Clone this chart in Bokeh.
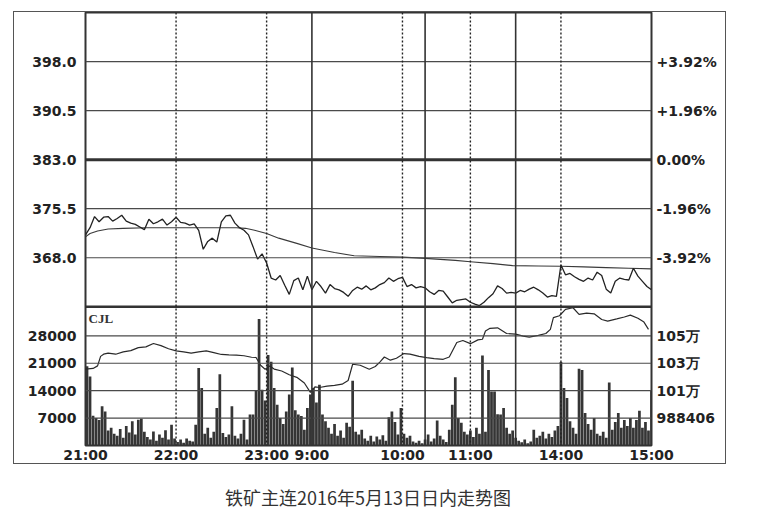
from bokeh.plotting import figure
from bokeh.models import Range1d, LinearAxis, FixedTicker, Span, CustomJSTickFormatter
from bokeh.layouts import column
from bokeh.embed import file_html
from bokeh.resources import INLINE
from bokeh.core.properties import value

# ---------------- data (minutes since 21:00 on the trading-time axis) ----------------
price_t = list(range(0, 376, 3))
price_night = [371.5, 372.6, 374.3, 373.5, 374.2, 374.3, 373.6, 374.0, 374.5, 373.6,
               373.3, 373.1, 372.7, 372.3, 373.9, 373.2, 373.5, 373.9, 373.0, 373.5,
               374.2, 373.4, 373.3, 373.0, 373.2, 372.2, 369.3, 370.5, 371.0, 370.4,
               373.5, 374.4, 374.5, 373.3, 372.6, 372.2, 371.5, 369.7, 367.8, 368.6,
               367.2, 364.9, 364.6, 365.3, 363.8, 362.4, 364.5, 364.9, 363.1, 365.2]
price_day = [363.1, 364.4, 363.6, 362.6, 363.9, 363.3, 363.1, 362.7, 362.1, 363.0,
             363.5, 363.2, 363.7, 363.1, 363.4, 363.9, 364.2, 364.9, 364.4, 364.8,
             365.0, 363.6, 363.9, 363.4, 363.6, 363.4, 362.8, 362.4, 363.0, 362.9,
             362.0, 361.1, 361.5, 361.6, 361.7, 361.2, 360.9, 360.7, 361.2, 361.9,
             362.5, 363.7, 363.3, 362.6, 362.7, 362.6, 363.0, 362.8, 363.2, 363.5,
             363.1, 362.6, 362.0, 362.2, 362.1, 366.9, 365.4, 365.6, 365.1, 364.7,
             364.4, 364.9, 364.6, 365.8, 365.3, 363.2, 362.6, 364.4, 364.9, 364.7,
             364.6, 366.4, 365.2, 364.4, 363.6, 363.1]
price_v = price_night + price_day

avg_t = [0, 3, 8, 15, 25, 40, 60, 80, 100, 106, 112, 120, 128, 140, 150, 165, 178,
         195, 210, 225, 245, 255, 270, 283, 300, 315, 330, 345, 360, 375]
avg_v = [371.2, 371.7, 372.1, 372.4, 372.5, 372.6, 372.6, 372.6, 372.6, 372.5, 372.2,
         371.7, 371.0, 370.2, 369.5, 368.8, 368.3, 368.2, 368.1, 367.9, 367.6, 367.4,
         367.1, 366.8, 366.75, 366.7, 366.6, 366.5, 366.4, 366.3]

vol_t = list(range(0, 375, 2))
vol_v = [20200, 17600, 7600, 7000, 6500, 10000, 8700, 3800, 4500, 3000,
         2500, 4200, 2000, 5000, 3300, 6200, 2800, 6600, 6800, 3500,
         2200, 1500, 3600, 1200, 2800, 2000, 3900, 1500, 5300, 1800,
         900, 1500, 700, 1800, 1200, 1000, 5300, 19800, 14700, 3000,
         4500, 2000, 3500, 9600, 18200, 3200, 2200, 2800, 10000, 2500,
         1800, 3000, 6600, 1500, 7900, 7900, 14000, 32300, 14200, 11500,
         23100, 21400, 14700, 10400, 7000, 5500, 8700, 13000, 19900, 9000,
         7900, 7500, 4000, 9600, 13000, 14700, 11000, 15500, 7900, 6200,
         4500, 3000, 5500, 2500, 3800, 2000, 5800, 4800, 16500, 3500,
         2800, 4000, 1800, 1200, 2500, 1000, 2300, 1500, 2600, 1200,
         7200, 8700, 6000, 2800, 9600, 3000, 2000, 2500, 1000, 700,
         1200, 600, 1500, 2800, 1000, 1800, 6400, 2500, 1500, 900,
         4000, 10400, 17400, 7000, 5800, 3500, 2800, 3800, 2200, 4500,
         3000, 23000, 3500, 19300, 13800, 13800, 8000, 7900, 9600, 4500,
         3000, 3800, 2000, 1200, 800, 1500, 600, 1000, 4000, 2000,
         2500, 3500, 1800, 3000, 2200, 3800, 5000, 21300, 14700, 12100,
         6200, 4500, 3000, 19600, 19300, 8300, 5500, 4000, 7000, 3000,
         2500, 3500, 2000, 16100, 4000, 6000, 8300, 4500, 6500, 5000,
         7000, 4500, 6500, 8900, 4500, 6000, 3800, 14000]

oi_t = [0, 5, 8, 10, 12, 15, 20, 25, 30, 35, 40, 45, 50, 55, 60, 65, 70, 75, 80, 85,
        90, 95, 100, 105, 110, 113, 116, 119, 122, 125, 130, 135, 140, 145, 149, 152,
        155, 160, 165, 170, 174, 177, 182, 188, 192, 195, 198, 202, 206, 211, 215, 221,
        226, 231, 237, 241, 246, 250, 255, 260, 263, 265, 268, 273, 279, 285, 290, 294,
        300, 305, 308, 310, 314, 318, 323, 327, 332, 337, 342, 346, 352, 357, 361, 366,
        370, 373]
oi_v = [1026900, 1027500, 1029500, 1037000, 1038700, 1039500, 1038700, 1040500, 1041500, 1043900,
        1044500, 1047100, 1045500, 1043000, 1041300, 1040500, 1039500, 1040500, 1041300, 1040000,
        1038500, 1038200, 1038000, 1037500, 1036300, 1036100, 1030000, 1026900, 1029500, 1027000,
        1025500, 1022500, 1020500, 1016000, 1008600, 1013000, 1012500, 1013500, 1014200, 1015100,
        1018000, 1030800, 1030000, 1026900, 1029000, 1032500, 1036500, 1034000, 1035500, 1039200,
        1038800, 1037000, 1036000, 1035200, 1034700, 1036500, 1047900, 1049500, 1047000, 1050000,
        1050500, 1057000, 1059100, 1059500, 1055000, 1054500, 1053000, 1052200, 1053500, 1055000,
        1058300, 1067500, 1069000, 1074000, 1075300, 1070100, 1071000, 1070500, 1066000, 1064800,
        1066500, 1068000, 1069500, 1067000, 1064000, 1058300]

price_ticks = [368.0, 375.5, 383.0, 390.5, 398.0]
price_tick_labels = ["368.0", "375.5", "383.0", "390.5", "398.0"]
pct_tick_labels = ["-3.92%", "-1.96%", "0.00%", "+1.96%", "+3.92%"]
vol_ticks = [7000, 14000, 21000, 28000]
vol_tick_labels = ["7000", "14000", "21000", "28000"]
oi_tick_labels = ["988406", "101万", "103万", "105万"]
time_ticks = [0, 60, 120, 150, 210, 255, 315, 375]
time_labels = ["21:00", "22:00", "23:00", "9:00", "10:00", "11:00", "14:00", "15:00"]
dotted_t = [60, 120, 210, 255, 315]
solid_t = [150, 225, 285]
prev_settle = 383.0
title_text = "铁矿主连2016年5月13日日内走势图"

# ---------------- scales ----------------
price_lo, price_hi = 360.5, 405.5
vol_top = 35400
oi_at_first_tick = 988406
oi_per_tick = 21594
FRAME_H, VOL_H = 434, 139
f = VOL_H / FRAME_H
price_start = price_lo - f / (1 - f) * (price_hi - price_lo)
vol_end = vol_top / f
oi_per_vol = oi_per_tick / vol_ticks[0]
oi_base = oi_at_first_tick - oi_per_tick

def vol_to_price(v):
    return price_start + v / vol_end * (price_hi - price_start)

W, H = 713, 453
ML, MR, MB = 71, 76, 19

p = figure(width=W, height=H, output_backend="svg", toolbar_location=None,
           x_range=Range1d(0, 375), y_range=Range1d(price_start, price_hi),
           min_border_left=ML, min_border_right=MR, min_border_top=0, min_border_bottom=MB,
           x_axis_location=None, y_axis_location=None)
p.extra_y_ranges = {"vol": Range1d(0, vol_end), "oi": Range1d(oi_base, oi_base + oi_per_vol * vol_end)}
p.xgrid.visible = False
p.ygrid.visible = False
p.outline_line_color = "#333333"
p.outline_line_width = 2
p.background_fill_color = "white"
p.border_fill_color = "white"
p.margin = (11, 0, 0, 13)
p.styles = {"border": "1px solid #555555"}

FONT = "DejaVu Sans"

def style_axis(ax, standoff):
    ax.axis_line_color = None
    ax.major_tick_line_color = None
    ax.minor_tick_line_color = None
    ax.major_tick_out = 0
    ax.major_tick_in = 0
    ax.major_label_standoff = standoff
    ax.major_label_text_font = FONT
    ax.major_label_text_font_style = "bold"
    ax.major_label_text_font_size = "14px"
    ax.major_label_text_color = "#222222"

left_ticks = price_ticks + [vol_to_price(v) for v in vol_ticks]
left_labels = price_tick_labels + vol_tick_labels
right_labels = pct_tick_labels + oi_tick_labels
js = """
let best = 0; let bd = 1e9;
for (let i = 0; i < tks.length; i++) { const d = Math.abs(tks[i] - tick); if (d < bd) { bd = d; best = i; } }
return labs[best];
"""
left_axis = LinearAxis(ticker=FixedTicker(ticks=left_ticks),
                       formatter=CustomJSTickFormatter(args=dict(tks=left_ticks, labs=left_labels), code=js))
style_axis(left_axis, 9)
p.add_layout(left_axis, "left")

right_axis = LinearAxis(ticker=FixedTicker(ticks=left_ticks),
                        formatter=CustomJSTickFormatter(args=dict(tks=left_ticks, labs=right_labels), code=js))
style_axis(right_axis, 5)
p.add_layout(right_axis, "right")

x_axis = LinearAxis(ticker=FixedTicker(ticks=time_ticks),
                    formatter=CustomJSTickFormatter(args=dict(tks=time_ticks, labs=time_labels), code=js))
style_axis(x_axis, 1)
p.add_layout(x_axis, "below")

# ---------------- grid ----------------
GRID = "#4a4a4a"
for v in price_ticks:
    lw = 3 if v == prev_settle else 1.2
    p.add_layout(Span(location=v, dimension="width", line_color="#333333" if v == prev_settle else GRID,
                      line_width=lw))
for v in vol_ticks:
    p.add_layout(Span(location=v, dimension="width", y_range_name="vol", line_color=GRID, line_width=1.2))
p.add_layout(Span(location=price_lo, dimension="width", line_color="#333333", line_width=2.5))
for t in dotted_t:
    p.add_layout(Span(location=t, dimension="height", line_color="#222222", line_width=1.4, line_dash="2 2"))
for t in solid_t:
    p.add_layout(Span(location=t, dimension="height", line_color="#333333", line_width=1.6))

# ---------------- series ----------------
p.vbar(x=[t + 1 for t in vol_t], top=vol_v, bottom=0, width=1.8, y_range_name="vol",
       fill_color="#353535", line_color=None)
p.line(oi_t, oi_v, y_range_name="oi", line_color="#2a2a2a", line_width=1.2)
p.line(avg_t, avg_v, line_color="#3a3a3a", line_width=1.1)
p.line(price_t, price_v, line_color="#222222", line_width=1.3)
p.text(x=[0], y=[vol_top], text=["CJL"], y_range_name="vol", text_baseline="top", text_align="left",
       x_offset=3, y_offset=4, text_font=value("Liberation Serif"), text_font_style="bold",
       text_font_size="13px", text_color="#333333")

# ---------------- title below the frame ----------------
t = figure(width=724, height=56, output_backend="svg", toolbar_location=None,
           x_axis_location=None, y_axis_location=None, min_border=0)
t.outline_line_color = None
t.xgrid.visible = False
t.ygrid.visible = False
t.margin = (0, 0, 0, 8)
t.title.text = title_text
t.title.align = "center"
t.title.text_font = "Noto Sans CJK SC"
t.title.text_font_size = "18px"
t.title.text_font_style = "normal"
t.title.text_color = "#333333"
t.title.standoff = 0
t.min_border_top = 45

layout = column(p, t)
open("out.html", "w").write(file_html(layout, INLINE))
